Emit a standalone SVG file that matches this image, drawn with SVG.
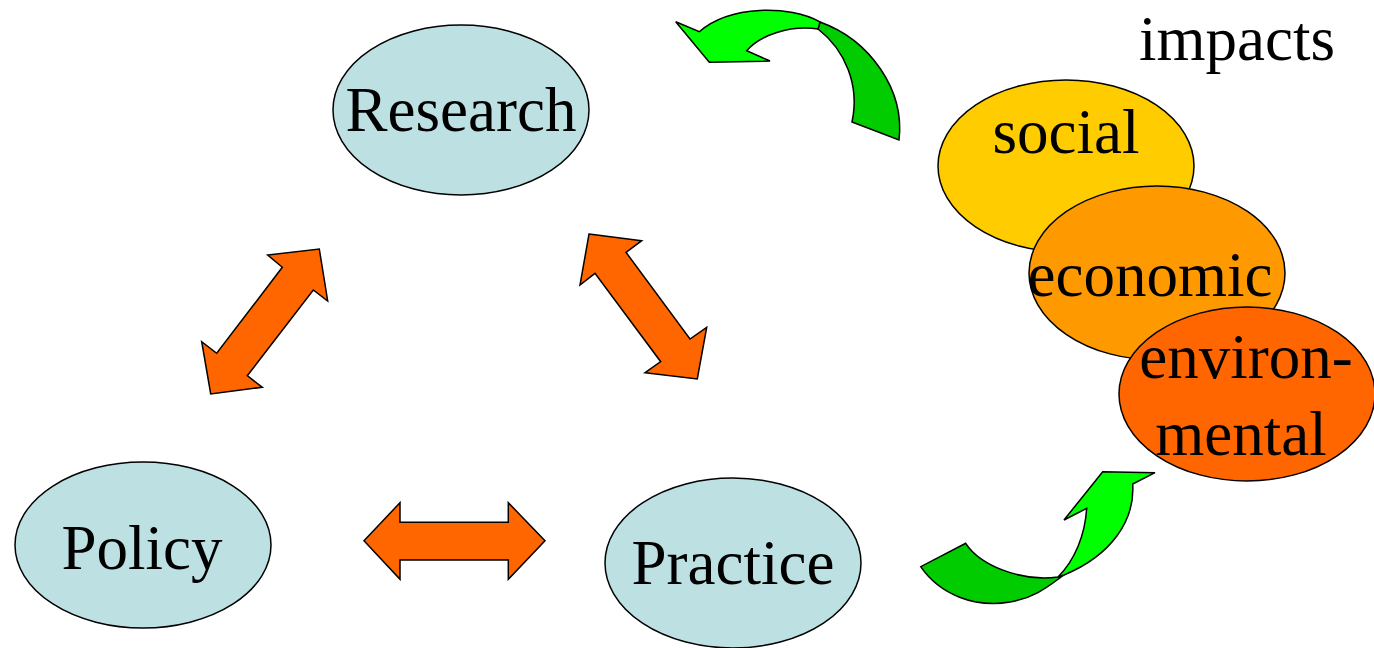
<svg xmlns="http://www.w3.org/2000/svg" width="1374" height="648" viewBox="0 0 1374 648">
<style>
.node{fill:#BDE0E3;stroke:#000;stroke-width:1.5}
.lbl{font-family:"Liberation Serif","Times New Roman",serif;font-size:63px;fill:#000;text-anchor:middle}
.dbl{fill:#FF6600;stroke:#000;stroke-width:1.5;stroke-linejoin:miter}
.gl{fill:#00FF00;stroke:#000;stroke-width:1.5}
.gd{fill:#00CC00;stroke:#000;stroke-width:1.5}
</style>
<rect width="1374" height="648" fill="#fff"/>
<g id="research"><ellipse class="node" cx="461" cy="110" rx="128" ry="85"/><text class="lbl" x="461" y="131">Research</text></g>
<g id="policy"><ellipse class="node" cx="143" cy="545" rx="128" ry="83"/><text class="lbl" x="142" y="569">Policy</text></g>
<g id="practice"><ellipse class="node" cx="733" cy="563" rx="128" ry="85"/><text class="lbl" x="733" y="584">Practice</text></g>
<g id="impacts"><text class="lbl" x="1237" y="60">impacts</text></g>
<g id="social"><ellipse cx="1066" cy="166" rx="128" ry="86" fill="#FFCC00" stroke="#000" stroke-width="1.5"/><text class="lbl" x="1066" y="153">social</text></g>
<g id="economic"><ellipse cx="1157" cy="273" rx="128" ry="87" fill="#FF9900" stroke="#000" stroke-width="1.5"/><text class="lbl" x="1150" y="296">economic</text></g>
<g id="environmental"><ellipse cx="1247" cy="394" rx="128" ry="87" fill="#FF6600" stroke="#000" stroke-width="1.5"/><text class="lbl" x="1246" y="378">environ-</text><text class="lbl" x="1241" y="455">mental</text></g>
<g id="connectors">
<polygon class="dbl" points="319.3,249 327.7,301 313.3,290 247.3,375.7 262.3,387.3 210.7,394 201.7,341.7 216.7,353.3 282.3,267.3 267.7,255"/>
<polygon class="dbl" points="589,234 641.7,240.7 626,252.3 690,339 706.7,327.3 697.3,379 645,372.7 660.7,361.7 595,273.3 580,285"/>
<polygon class="dbl" points="364,540.7 400,502.7 400,522.3 508.3,522.3 508.3,502.7 545,540.7 508.3,579.3 508.3,560 400,560 400,579.3"/>
<path class="gd" d="M820,22 C870,40 905,90 899,140 L852,122 C860,85 845,50 818,29 Z"/>
<path class="gl" d="M675.7,21.7 L699.3,31.7 C730,5 790,5 820,22 L818,29 C790,25 760,35 746.7,50.7 L770,61 L709.3,62.3 Z"/>
<path class="gd" d="M920.7,566.7 C940,595 975,608 1010,602 C1035,598 1050,585 1064,575 L1058,577 C1020,582 980,565 965.7,543.3 Z"/>
<path class="gl" d="M1058,577 C1075,560 1085,535 1086.7,508.3 L1064,520 L1102.7,471.7 L1155,472.7 L1132.7,484 C1135,520 1112,555 1064,575 Z"/>
</g>
</svg>
